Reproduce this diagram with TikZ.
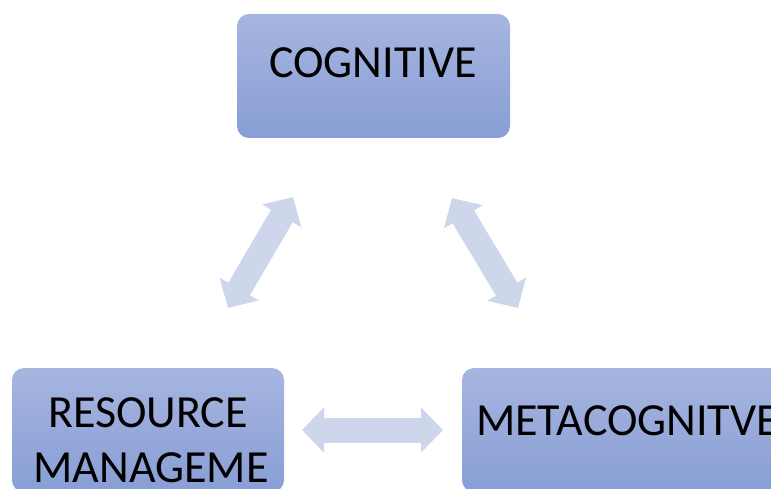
\documentclass[tikz,border=0pt]{standalone}
\usepackage{fontspec}
\setmainfont{Carlito}
\usetikzlibrary{arrows.meta}
\definecolor{boxtop}{HTML}{A7B5E0}
\definecolor{boxbot}{HTML}{889ED5}
\definecolor{arrowfill}{HTML}{CED6EC}
\tikzset{
  box/.style={rectangle, rounded corners=12pt, top color=boxtop, bottom color=boxbot, draw=none, inner sep=0pt},
  lbl/.style={font=\fontsize{46}{55}\selectfont, text=black, inner sep=0pt},
  bigarrow/.style={draw=arrowfill, line width=25pt, {Triangle[length=22pt,width=44pt]}-{Triangle[length=22pt,width=44pt]}},
}
\begin{document}
\begin{tikzpicture}[x=1pt,y=-1pt]
\useasboundingbox (0,0) rectangle (771,489);
\clip (0,0) rectangle (771,489);
\node[box, minimum width=273pt, minimum height=124pt] (cog) at (373.5,76) {};
\node[box, minimum width=272pt, minimum height=124pt] (res) at (148,430) {};
\node[box, minimum width=338pt, minimum height=124pt] (meta) at (631,430) {};
\node[lbl, anchor=base] (cogt) at (373,78) {COGNITIVE};
\node[lbl, anchor=base] (rest1) at (148,427) {RESOURCE};
\node[lbl, anchor=base] (rest2) at (151,482) {MANAGEME};
\node[lbl, anchor=base west] (metat) at (476,435) {METACOGNITVE};
\coordinate (a1) at (228,308);
\coordinate (a2) at (293,197);
\coordinate (b1) at (452,198);
\coordinate (b2) at (518,308);
\coordinate (c1) at (302,430);
\coordinate (c2) at (443,430);
\draw[bigarrow] (a1) -- (a2);
\draw[bigarrow] (b1) -- (b2);
\draw[bigarrow] (c1) -- (c2);
\end{tikzpicture}
\end{document}
